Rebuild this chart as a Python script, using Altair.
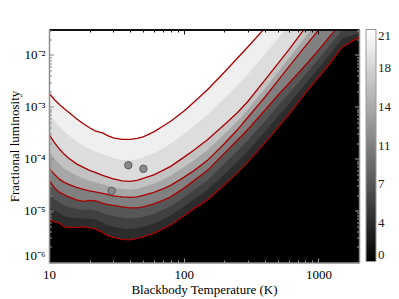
import altair as alt
import pandas as pd

# ---------------- data ----------------
temps = [10, 11, 12, 13, 14, 16, 18, 20, 22, 24, 25, 27, 30, 35, 40, 45, 50, 60, 70, 80,
         100, 120, 150, 200, 250, 300, 400, 500, 600, 800, 1000, 1200, 1500, 2000]

# log10(fractional luminosity) along the red contour lines (c1 = highest count)
c1_log = [-2.737, -2.863, -2.959, -3.037, -3.104, -3.230, -3.326, -3.403, -3.461, -3.490, -3.500,
          -3.548, -3.596, -3.625, -3.625, -3.606, -3.577, -3.481, -3.374, -3.278, -3.085, -2.901,
          -2.670, -2.332, -2.062, -1.840, -1.483, -1.203]
c2_log = [-3.529, -3.693, -3.818, -3.915, -3.992, -4.098, -4.166, -4.224, -4.262, -4.301, -4.320,
          -4.349, -4.388, -4.427, -4.436, -4.417, -4.378, -4.311, -4.224, -4.147, -3.973, -3.828,
          -3.635, -3.346, -3.114, -2.892, -2.486, -2.168, -1.907, -1.473, -1.154]
c3_log = [-4.185, -4.301, -4.398, -4.456, -4.494, -4.552, -4.591, -4.620, -4.639, -4.658, -4.668,
          -4.687, -4.716, -4.735, -4.745, -4.735, -4.707, -4.649, -4.581, -4.513, -4.359, -4.224,
          -4.031, -3.712, -3.442, -3.201, -2.815, -2.496, -2.235, -1.830, -1.521, -1.270]
c4_log = [-4.417, -4.562, -4.649, -4.697, -4.735, -4.793, -4.822, -4.803, -4.813, -4.842, -4.861,
          -4.880, -4.900, -4.929, -4.948, -4.948, -4.929, -4.871, -4.803, -4.735, -4.571, -4.417,
          -4.224, -3.896, -3.645, -3.432, -3.066, -2.776, -2.554, -2.197, -1.907, -1.656, -1.367]
c5_log = [-5.189, -5.218, -5.247, -5.315, -5.324, -5.324, -5.315, -5.334, -5.353, -5.401, -5.421,
          -5.479, -5.517, -5.556, -5.562, -5.537, -5.508, -5.440, -5.353, -5.276, -5.102, -4.957,
          -4.793, -4.504, -4.272, -4.060, -3.693, -3.394, -3.152, -2.737, -2.429, -2.178, -1.849,
          -1.656]

# estimated boundaries of the unlabelled grey bands
m12_log = [-3.133, -3.278, -3.389, -3.476, -3.548, -3.664, -3.746, -3.814, -3.862, -3.896, -3.910,
           -3.949, -3.992, -4.026, -4.031, -4.012, -3.978, -3.896, -3.799, -3.713, -3.529, -3.365,
           -3.153, -2.839, -2.588, -2.366, -1.985, -1.686, -1.430]
m23_log = [-3.857, -3.997, -4.108, -4.186, -4.243, -4.325, -4.379, -4.422, -4.451, -4.480, -4.494,
           -4.518, -4.552, -4.581, -4.591, -4.576, -4.543, -4.480, -4.403, -4.330, -4.166, -4.026,
           -3.833, -3.529, -3.278, -3.047, -2.651, -2.332, -2.071, -1.652, -1.338]
m45a_log = [-4.674, -4.781, -4.848, -4.903, -4.931, -4.970, -4.986, -4.980, -4.993, -5.028, -5.048,
            -5.080, -5.106, -5.138, -5.153, -5.144, -5.122, -5.061, -4.986, -4.915, -4.748, -4.597,
            -4.414, -4.099, -3.854, -3.641, -3.275, -2.982, -2.753, -2.377, -2.081, -1.830, -1.528,
            -1.450]
m45b_log = [-4.932, -4.999, -5.048, -5.109, -5.128, -5.147, -5.151, -5.157, -5.173, -5.215, -5.234,
            -5.279, -5.311, -5.347, -5.357, -5.341, -5.315, -5.250, -5.170, -5.096, -4.925, -4.777,
            -4.603, -4.301, -4.063, -3.851, -3.484, -3.188, -2.953, -2.557, -2.255, -2.004, -1.688,
            -1.580]

# detection count of each band (region above the boundary), lowest band first
band_bounds = [c5_log, m45b_log, m45a_log, c4_log, c3_log, m23_log, c2_log, m12_log, c1_log]
band_levels = [3.6, 5.3, 7.1, 10.5, 13.7, 16.0, 18.2, 19.7, 21.0]

contours = [c1_log, c2_log, c3_log, c4_log, c5_log]

obj_T = [38.8, 50.2, 29.2]
obj_L = [7.5e-5, 6.4e-5, 2.4e-5]

x_major = [10, 100, 1000]
x_minor = [20, 30, 40, 50, 60, 70, 80, 90, 200, 300, 400, 500, 600, 700, 800, 900]
y_major = [1e-6, 1e-5, 1e-4, 1e-3, 1e-2]
y_minor = [2e-6, 3e-6, 4e-6, 5e-6, 6e-6, 7e-6, 8e-6, 9e-6,
           2e-5, 3e-5, 4e-5, 5e-5, 6e-5, 7e-5, 8e-5, 9e-5,
           2e-4, 3e-4, 4e-4, 5e-4, 6e-4, 7e-4, 8e-4, 9e-4,
           2e-3, 3e-3, 4e-3, 5e-3, 6e-3, 7e-3, 8e-3, 9e-3,
           2e-2, 3e-2]
cbar_ticks = [0, 3.5, 7, 10.5, 14, 17.5, 21]

# ---------------- chart ----------------
FONT = "Liberation Serif"
W, H = 310, 233

xs = alt.Scale(type="log", domain=[10, 2000], nice=False)
ys = alt.Scale(type="log", domain=[1e-6, 0.031], nice=False)
cs = alt.Scale(domain=[0, 21], range=["#000000", "#ffffff"], interpolate="rgb")

legend = alt.Legend(title=None, orient="right", offset=6, padding=0, direction="vertical",
                    gradientLength=232, gradientThickness=10, values=cbar_ticks,
                    labelExpr="'' + round(datum.value)", labelFont=FONT, labelFontSize=13,
                    labelColor="#222222", labelOffset=2, labelOverlap=False,
                    gradientStrokeColor="#999999", gradientStrokeWidth=1)

major_test = "abs(log(datum.value)/LN10 - round(log(datum.value)/LN10)) < 0.01"
tick_size = {"condition": {"test": major_test, "value": 4.5}, "value": 2.5}

layers = []
for bound, lev in zip(band_bounds, band_levels):
    n = len(bound)
    df = pd.DataFrame({"T": temps[:n], "L": [10 ** v for v in bound]})
    df["top"] = 1.0
    df["level"] = lev
    layers.append(
        alt.Chart(df).mark_area(clip=True).encode(
            x=alt.X("T:Q", scale=xs, axis=None),
            y=alt.Y("L:Q", scale=ys, axis=None, stack=None),
            y2="top:Q",
            color=alt.Color("level:Q", scale=cs, legend=legend),
        )
    )

rows = []
for i, cur in enumerate(contours):
    for t, v in zip(temps, cur):
        rows.append({"T": t, "L": 10 ** v, "curve": f"c{i + 1}"})
lines_df = pd.DataFrame(rows)

lines = alt.Chart(lines_df).mark_line(clip=True, color="#a80000", strokeWidth=1.3).encode(
    x=alt.X("T:Q", scale=xs,
            axis=alt.Axis(orient="bottom", offset=-H, values=x_major + x_minor, labels=False,
                          ticks=True, tickSize=tick_size, tickColor="#111111", tickWidth=1,
                          domain=True, domainColor="#111111", domainWidth=2, grid=False,
                          title=None, zindex=2)),
    y=alt.Y("L:Q", scale=ys,
            axis=alt.Axis(orient="right", offset=-W, values=y_major + y_minor, labels=False,
                          ticks=True, tickSize=tick_size, tickColor="#8c8c8c", tickWidth=1,
                          domain=True, domainColor="#8c8c8c", domainWidth=1.5, grid=False,
                          title=None, zindex=2)),
    detail="curve:N",
)

pts_df = pd.DataFrame({"T": obj_T, "L": obj_L})

y_label_expr = ("'10' + (round(log(datum.value)/LN10) == -2 ? '\u207b\u00b2' : "
                "round(log(datum.value)/LN10) == -3 ? '\u207b\u00b3' : "
                "round(log(datum.value)/LN10) == -4 ? '\u207b\u2074' : "
                "round(log(datum.value)/LN10) == -5 ? '\u207b\u2075' : '\u207b\u2076')")

pts = alt.Chart(pts_df).mark_circle(size=55, color="#8a8a8a", stroke="#5a5a5a",
                                    strokeWidth=1, opacity=1).encode(
    x=alt.X("T:Q", scale=xs,
            axis=alt.Axis(orient="bottom", values=x_major, format="d", ticks=False, tickSize=0,
                          domain=False, grid=False, labelPadding=6, labelFlush=False,
                          labelFont=FONT, labelFontSize=13, labelColor="#000000",
                          labelOverlap=False, title="Blackbody Temperature (K)",
                          titleFont=FONT, titleFontSize=13, titleFontWeight="normal",
                          titleColor="#000000", titleX=W / 2, titleY=30.5,
                          titleAlign="center", titleBaseline="alphabetic")),
    y=alt.Y("L:Q", scale=ys,
            axis=alt.Axis(orient="left", values=y_major, labelExpr=y_label_expr, ticks=False,
                          tickSize=0, domain=False, grid=False, labelPadding=4,
                          labelFlush=True, labelFont=FONT, labelFontSize=13,
                          labelColor="#000000", labelOverlap=False,
                          title="Fractional luminosity", titleFont=FONT, titleFontSize=13,
                          titleFontWeight="normal", titleColor="#000000", titleX=-31,
                          titleY=H / 2, titleAngle=-90, titleAlign="center",
                          titleBaseline="alphabetic")),
)

carrier = alt.Chart(pts_df).mark_circle(size=1, opacity=0).encode(
    x=alt.X("T:Q", scale=xs,
            axis=alt.Axis(orient="top", offset=-H, values=x_major + x_minor, labels=False,
                          ticks=True, tickSize=tick_size, tickColor="#9a9a9a", tickWidth=1,
                          domain=True, domainColor="#8c8c8c", domainWidth=1.5, grid=False,
                          title=None, zindex=2)),
    y=alt.Y("L:Q", scale=ys,
            axis=alt.Axis(orient="left", offset=-W, values=y_major + y_minor, labels=False,
                          ticks=True, tickSize=tick_size, tickColor="#9a9a9a", tickWidth=1,
                          domain=True, domainColor="#8c8c8c", domainWidth=1.5, grid=False,
                          title=None, zindex=2)),
)

chart = (
    alt.layer(*layers, lines, pts, carrier)
    .resolve_scale(x="shared", y="shared", color="shared")
    .resolve_axis(x="independent", y="independent")
    .properties(width=W, height=H, autosize=alt.AutoSizeParams(type="none"),
                padding={"left": 41, "top": 21.5, "right": 32, "bottom": 35})
    .configure_view(fill="#000000", stroke="transparent")
)

chart.save("out.html", embed_options={"renderer": "svg", "actions": False})
